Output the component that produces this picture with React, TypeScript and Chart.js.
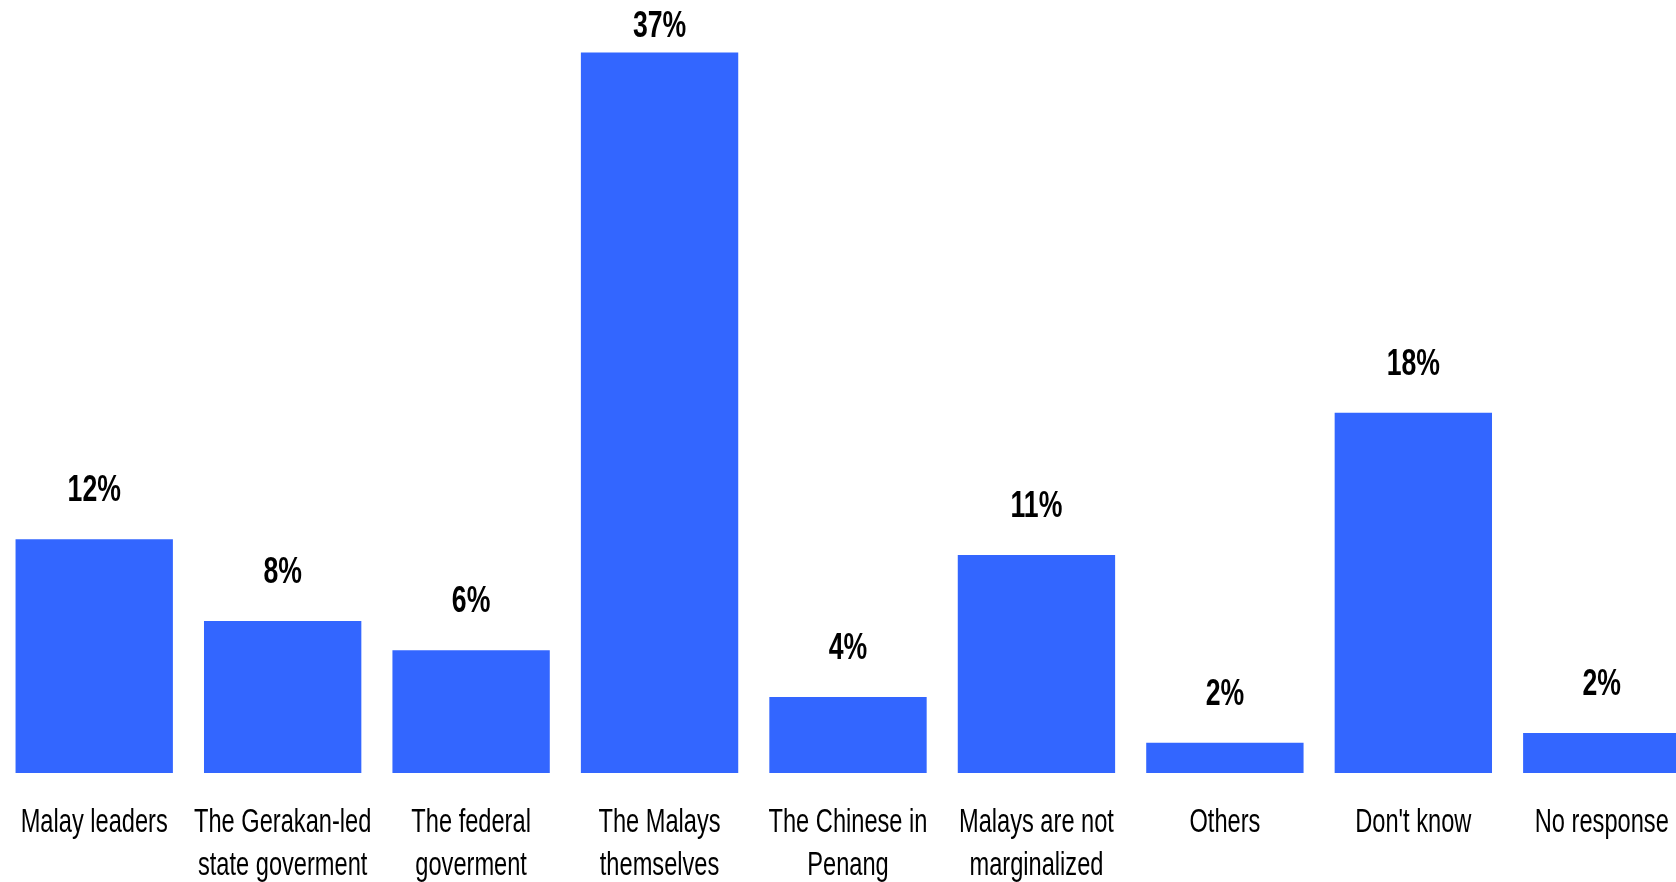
import React, { useEffect, useRef } from "react";
import { Chart, registerables } from "chart.js";

Chart.register(...registerables);

const categories: (string | string[])[] = [
  "Malay leaders",
  ["The Gerakan-led", "state goverment"],
  ["The federal", "goverment"],
  ["The Malays", "themselves"],
  ["The Chinese in", "Penang"],
  ["Malays are not", "marginalized"],
  "Others",
  "Don't know",
  "No response",
];

// bar heights (percent)
const values: number[] = [12, 7.8, 6.3, 37, 3.9, 11.2, 1.55, 18.5, 2.05];

// printed labels above the bars
const valueLabels: string[] = ["12%", "8%", "6%", "37%", "4%", "11%", "2%", "18%", "2%"];

const BAR_COLOR = "#3366ff";
const FONT = "'Liberation Sans', Arial, sans-serif";

// condensed text: Arial-like glyphs squeezed horizontally
function drawCondensed(ctx: CanvasRenderingContext2D, text: string, x: number, y: number, squeeze: number) {
  ctx.save();
  ctx.translate(x, y);
  ctx.scale(squeeze, 1);
  ctx.fillText(text, 0, 0);
  ctx.restore();
}

const valueLabelPlugin = {
  id: "valueLabels",
  afterDatasetsDraw(chart: any) {
    const ctx = chart.ctx;
    const meta = chart.getDatasetMeta(0);
    ctx.save();
    ctx.font = `bold 37px ${FONT}`;
    ctx.fillStyle = "#000000";
    ctx.textAlign = "center";
    ctx.textBaseline = "alphabetic";
    meta.data.forEach((bar: any, i: number) => {
      const y = Math.max(bar.y - 38, 37);
      drawCondensed(ctx, valueLabels[i], bar.x, y, 0.72);
    });
    ctx.restore();
  },
};

const categoryLabelPlugin = {
  id: "categoryLabels",
  afterDraw(chart: any) {
    const ctx = chart.ctx;
    const xScale = chart.scales.x;
    const base = chart.chartArea.bottom;
    ctx.save();
    ctx.font = `34px ${FONT}`;
    ctx.fillStyle = "#000000";
    ctx.textAlign = "center";
    ctx.textBaseline = "alphabetic";
    categories.forEach((lab, i) => {
      const x = xScale.getPixelForTick(i);
      const lines = Array.isArray(lab) ? lab : [lab];
      lines.forEach((line, j) => {
        drawCondensed(ctx, line, x, base + 58.5 + j * 43, 0.695);
      });
    });
    ctx.restore();
  },
};

export default function App() {
  const ref = useRef<HTMLCanvasElement | null>(null);

  useEffect(() => {
    document.body.style.margin = "0";
    const canvas = ref.current;
    if (!canvas) return;
    const chart = new Chart(canvas, {
      type: "bar",
      data: {
        labels: categories,
        datasets: [
          {
            data: values,
            backgroundColor: BAR_COLOR,
            borderWidth: 0,
            barPercentage: 0.835,
            categoryPercentage: 1,
          },
        ],
      },
      options: {
        animation: false,
        responsive: false,
        devicePixelRatio: 1,
        layout: { padding: { top: 33, left: 0, right: 0, bottom: 109 } },
        plugins: {
          legend: { display: false },
          tooltip: { enabled: false },
          title: { display: false },
        },
        scales: {
          y: {
            display: false,
            min: 0,
            max: 38,
          },
          x: {
            display: false,
            grid: { display: false },
            border: { display: false },
            ticks: { display: false },
          },
        },
      },
      plugins: [valueLabelPlugin, categoryLabelPlugin],
    });
    return () => chart.destroy();
  }, []);

  return (
    <div
      style={{
        position: "fixed",
        left: 0,
        top: 0,
        width: 1676,
        height: 882,
        overflow: "hidden",
        background: "#ffffff",
      }}
    >
      <canvas ref={ref} width={1696} height={882} style={{ display: "block" }} />
    </div>
  );
}
